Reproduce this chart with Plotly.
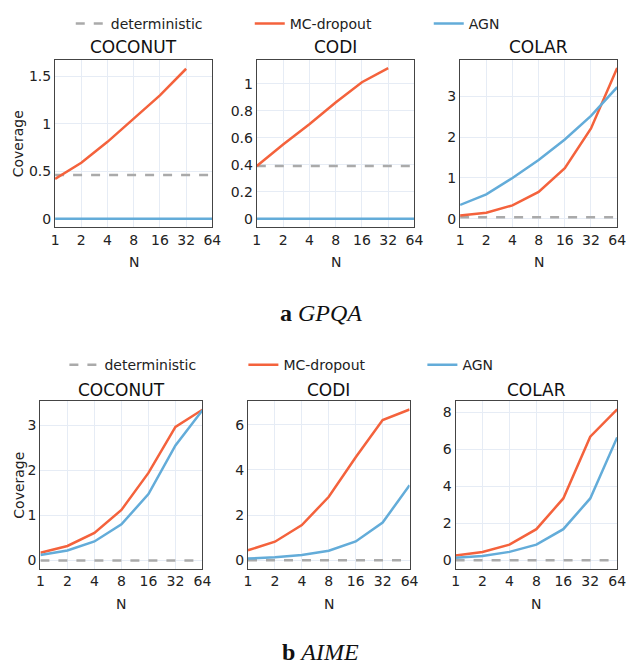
import numpy as np
import plotly.graph_objects as go

# The page body has an 8px default margin; the figure is sized to fill the rest.
OFF = 8
W, H = 634 - OFF, 666 - OFF

N = [1, 2, 4, 8, 16, 32, 64]
N_tick_labels = ["1", "2", "4", "8", "16", "32", "64"]
methods = ["COCONUT", "CODI", "COLAR"]

# GPQA
gpqa_det = [0.46, 0.39, 0.04]
gpqa_mc_coconut = [0.42, 0.59, 0.81, 1.05, 1.30, 1.58]
gpqa_mc_codi = [0.39, 0.55, 0.70, 0.86, 1.01, 1.115]
gpqa_mc_colar = [0.08, 0.15, 0.33, 0.66, 1.24, 2.21, 3.69]
gpqa_agn_coconut = [0, 0, 0, 0, 0, 0, 0]
gpqa_agn_codi = [0, 0, 0, 0, 0, 0, 0]
gpqa_agn_colar = [0.34, 0.60, 1.00, 1.44, 1.94, 2.52, 3.22]

# AIME
aime_det = [0.0, 0.0, 0.0]
aime_mc_coconut = [0.17, 0.32, 0.61, 1.12, 1.94, 2.96, 3.34]
aime_mc_codi = [0.44, 0.82, 1.56, 2.81, 4.56, 6.21, 6.68]
aime_mc_colar = [0.25, 0.45, 0.84, 1.68, 3.34, 6.68, 8.16]
aime_agn_coconut = [0.12, 0.22, 0.42, 0.80, 1.47, 2.55, 3.33]
aime_agn_codi = [0.07, 0.13, 0.23, 0.42, 0.83, 1.67, 3.32]
aime_agn_colar = [0.13, 0.23, 0.45, 0.84, 1.68, 3.34, 6.64]

rows = [
    dict(det=gpqa_det,
         mc=[gpqa_mc_coconut, gpqa_mc_codi, gpqa_mc_colar],
         agn=[gpqa_agn_coconut, gpqa_agn_codi, gpqa_agn_colar],
         yranges=[[-0.087, 1.674], [-0.061, 1.176], [-0.2, 3.89]],
         dticks=[0.5, 0.2, 1],
         xpx=[(52, 212.6), (258, 419), (465.6, 626)],
         ypx=(53.3, 222.3),
         legend="legend", caption="<b>a</b> <i>GPQA</i>", cap_y=309,
         title_y=40.7, n_y=257.7, leg_y=17, leg_x=68),
    dict(det=aime_det,
         mc=[aime_mc_coconut, aime_mc_codi, aime_mc_colar],
         agn=[aime_agn_coconut, aime_agn_codi, aime_agn_colar],
         yranges=[[-0.18, 3.53], [-0.37, 7.05], [-0.45, 8.6]],
         dticks=[1, 2, 2],
         xpx=[(37, 202.5), (249, 414), (461, 626)],
         ypx=(398.3, 567.5),
         legend="legend2", caption="<b>b</b> <i>AIME</i>", cap_y=651.7,
         title_y=386.7, n_y=603.7, leg_y=362, leg_x=61.5),
]


def px_x(px):
    return (px - OFF) / W


def px_y(py):
    return 1 - (py - OFF) / H


C_MC = "#f4623c"
C_AGN = "#63acd9"
C_DET = "#aaaaaa"
FONT = "DejaVu Sans"

fig = go.Figure()
annotations = []
layout_axes = {}
k = 0
for r, row in enumerate(rows):
    for c in range(3):
        k += 1
        xa = "x" if k == 1 else f"x{k}"
        ya = "y" if k == 1 else f"y{k}"
        showleg = (c == 0)
        mc = row["mc"][c]
        agn = row["agn"][c]
        det = [row["det"][c]] * len(N)
        fig.add_trace(go.Scatter(x=N, y=det, mode="lines", name="deterministic",
                                 line=dict(color=C_DET, width=2.5, dash="dash"),
                                 xaxis=xa, yaxis=ya, showlegend=showleg, legend=row["legend"]))
        fig.add_trace(go.Scatter(x=N[:len(mc)], y=mc, mode="lines", name="MC-dropout",
                                 line=dict(color=C_MC, width=2.5),
                                 xaxis=xa, yaxis=ya, showlegend=showleg, legend=row["legend"]))
        fig.add_trace(go.Scatter(x=N[:len(agn)], y=agn, mode="lines", name="AGN",
                                 line=dict(color=C_AGN, width=2.5),
                                 xaxis=xa, yaxis=ya, showlegend=showleg, legend=row["legend"]))
        x0, x1 = row["xpx"][c]
        y0, y1 = row["ypx"]
        axkey = "xaxis" if k == 1 else f"xaxis{k}"
        aykey = "yaxis" if k == 1 else f"yaxis{k}"
        layout_axes[axkey] = dict(
            domain=[px_x(x0), px_x(x1)], anchor=ya, type="log",
            range=[0, np.log10(64)], tickvals=N, ticktext=N_tick_labels,
            showgrid=True, gridcolor="#e6ecf5", gridwidth=1, zeroline=False,
            showline=True, linecolor="#444", linewidth=1.2, mirror=True,
            ticks="", tickfont=dict(family=FONT, size=14, color="#222"),
        )
        layout_axes[aykey] = dict(
            domain=[px_y(y1), px_y(y0)], anchor=xa,
            range=row["yranges"][c], dtick=row["dticks"][c], tick0=0,
            showgrid=True, gridcolor="#e6ecf5", gridwidth=1, zeroline=False,
            showline=True, linecolor="#444", linewidth=1.2, mirror=True,
            ticks="", tickfont=dict(family=FONT, size=14, color="#222"),
        )
        cx = px_x((x0 + x1) / 2)
        annotations.append(dict(text=methods[c], x=cx, y=px_y(row["title_y"]),
                                xref="paper", yref="paper", showarrow=False,
                                xanchor="center", yanchor="middle",
                                font=dict(family=FONT, size=17, color="#111")))
        annotations.append(dict(text="N", x=cx, y=px_y(row["n_y"]),
                                xref="paper", yref="paper", showarrow=False,
                                xanchor="center", yanchor="middle",
                                font=dict(family=FONT, size=14, color="#222")))
        if c == 0:
            annotations.append(dict(text="Coverage", x=px_x(15), y=px_y((y0 + y1) / 2),
                                    xref="paper", yref="paper", showarrow=False,
                                    textangle=-90, xanchor="center", yanchor="middle",
                                    font=dict(family=FONT, size=14, color="#222")))
    annotations.append(dict(text=row["caption"], x=px_x(323.5), y=px_y(row["cap_y"]),
                            xref="paper", yref="paper", showarrow=False,
                            xanchor="center", yanchor="middle",
                            font=dict(family="Liberation Serif", size=24, color="#111")))

leg_common = dict(orientation="h", xanchor="left", yanchor="middle",
                  bgcolor="rgba(0,0,0,0)", font=dict(family=FONT, size=14, color="#222"),
                  entrywidth=134, entrywidthmode="pixels", traceorder="normal")

fig.update_layout(
    width=W, height=H, autosize=False,
    margin=dict(l=0, r=0, t=0, b=0),
    paper_bgcolor="white", plot_bgcolor="white",
    annotations=annotations,
    legend=dict(x=px_x(rows[0]["leg_x"]), y=px_y(rows[0]["leg_y"]), **leg_common),
    legend2=dict(x=px_x(rows[1]["leg_x"]), y=px_y(rows[1]["leg_y"]), **leg_common),
    **layout_axes,
)

fig.write_html("out.html")
